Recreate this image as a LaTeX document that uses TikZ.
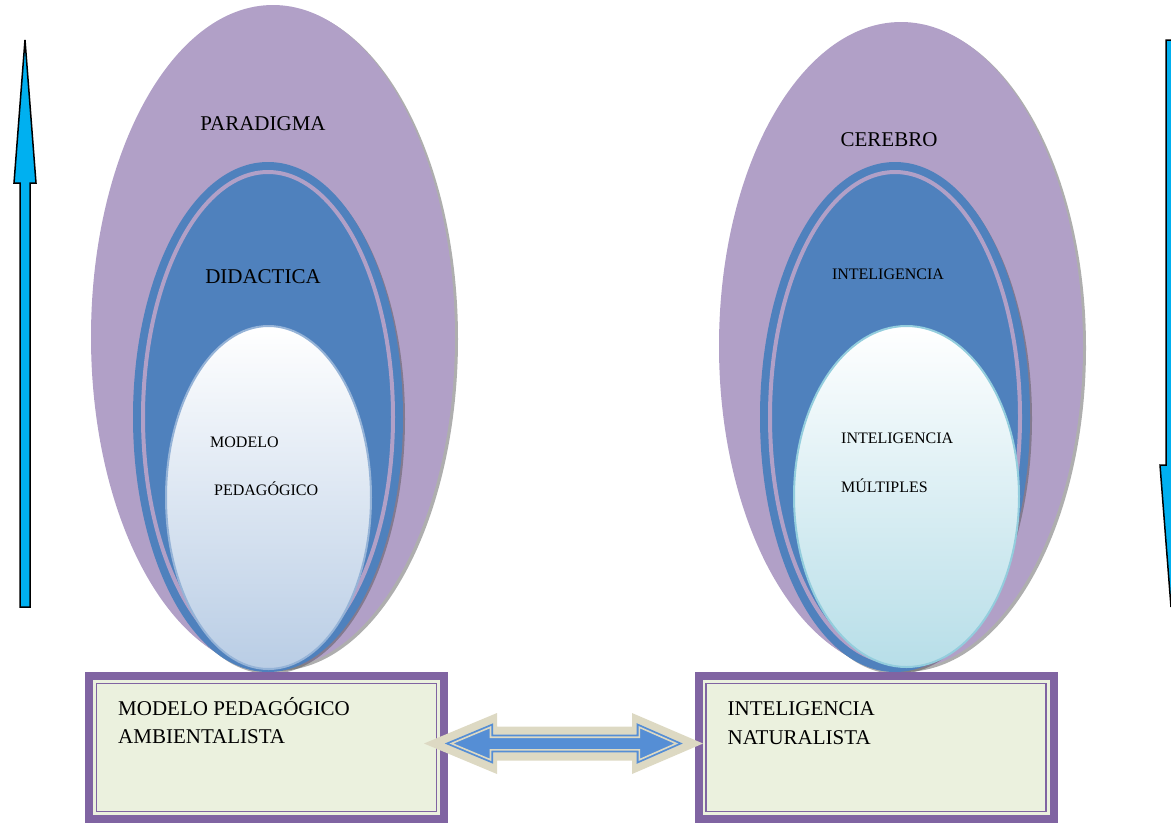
\documentclass[tikz,border=0pt]{standalone}
\usepackage{fontspec}
\setmainfont{Liberation Serif}
\usepackage{xcolor}
\usepackage{tikz}
\usetikzlibrary{calc}
\definecolor{lila}{HTML}{B1A0C7}
\definecolor{azul}{HTML}{4F81BD}
\definecolor{celeste}{HTML}{00B0F0}
\definecolor{morado}{HTML}{8064A2}
\definecolor{verdecaja}{HTML}{EBF1DE}
\definecolor{beige}{HTML}{DDD9C3}
\definecolor{azulflecha}{HTML}{558ED5}
\definecolor{bordeazul}{HTML}{95B3D7}
\definecolor{fondoazul}{HTML}{B9CDE5}
\definecolor{bordecian}{HTML}{93CDDD}
\definecolor{fondocian}{HTML}{B7DEE8}
\tikzstyle{sombra}=[fill=black!70, opacity=0.45]
\tikzstyle{elipse lila}=[fill=lila]
\tikzstyle{elipse azul}=[fill=azul, draw=azul, line width=8pt, double=lila, double distance=4pt]
\tikzstyle{elipse clara}=[line width=2pt, top color=white]
\tikzstyle{caja}=[rectangle, fill=verdecaja, draw=morado, line width=8pt, minimum width=355pt, minimum height=143pt]
\tikzstyle{marco}=[draw=morado, line width=1.5pt]
\tikzstyle{titulo}=[font=\fontsize{21}{25}\selectfont, inner sep=0pt, anchor=base]
\tikzstyle{texto}=[font=\fontsize{16}{19}\selectfont, inner sep=0pt]
\tikzstyle{flecha lateral}=[fill=celeste, draw=black, line width=1.5pt]
\tikzstyle{flecha doble}=[fill=azulflecha, draw=azulflecha, line width=1.8pt, double=beige, double distance=1.6pt]
\pgfdeclarelayer{fondo}
\pgfsetlayers{fondo,main}

\begin{document}
\begin{tikzpicture}[x=1pt, y=-1pt]
        \useasboundingbox (0,0) rectangle (1171,823);
        \begin{pgfonlayer}{fondo}
                % paradigma
                \fill[sombra] (276,339) ellipse [x radius=182pt, y radius=332pt];
                \fill[elipse lila] (273,337) ellipse [x radius=182pt, y radius=332pt];
                \fill[sombra] (270,419) ellipse [x radius=135pt, y radius=255pt];
                \draw[elipse azul] (268,417) ellipse [x radius=125pt, y radius=245pt];
                \draw[elipse clara, bottom color=fondoazul, draw=bordeazul] (268.5,497.5) ellipse [x radius=102.5pt, y radius=171.5pt];
                % cerebro
                \fill[sombra] (904,348) ellipse [x radius=182pt, y radius=324pt];
                \fill[elipse lila] (901,346) ellipse [x radius=182pt, y radius=324pt];
                \fill[sombra] (897,419) ellipse [x radius=135pt, y radius=255pt];
                \draw[elipse azul] (895,417) ellipse [x radius=125pt, y radius=245pt];
                \draw[elipse clara, bottom color=fondocian, draw=bordecian] (906.5,496.5) ellipse [x radius=112.5pt, y radius=170.5pt];
        \end{pgfonlayer}
        % flechas laterales
        \draw[flecha lateral] (20,607) -- (20,183) -- (14,183) -- (25,40) -- (36,183) -- (30,183) -- (30,607) -- cycle;
        \draw[flecha lateral] (1166,40) -- (1166,465) -- (1160,465) -- (1171,607) -- (1182,465) -- (1176,465) -- (1176,40) -- cycle;
        % textos de las elipses
        \node[titulo] (paradigma) at (263,130) {PARADIGMA};
        \node[titulo] (didactica) at (263,283) {DIDACTICA};
        \node[texto, anchor=base west] (modelo) at (210,447) {MODELO};
        \node[texto, anchor=base west] (pedagogico) at (214,495) {PEDAGÓGICO};
        \node[titulo] (cerebro) at (889,146) {CEREBRO};
        \node[texto, anchor=base] (inteligencia) at (888,279) {INTELIGENCIA};
        \node[texto, anchor=base west] (intMult) at (841,443) {INTELIGENCIA};
        \node[texto, anchor=base west] (multiples) at (841,492) {MÚLTIPLES};
        % cajas
        \node[caja] (cajaIzq) at (266.5,747.5) {};
        \node[caja] (cajaDer) at (876,747.5) {};
        \draw[marco] ($(cajaIzq.north west)+(11.5,11.5)$) rectangle ($(cajaIzq.south east)+(-11.5,-11.5)$);
        \draw[marco] ($(cajaDer.north west)+(11.5,11.5)$) rectangle ($(cajaDer.south east)+(-11.5,-11.5)$);
        \node[titulo, anchor=base west] (tModelo) at ($(cajaIzq.north west)+(33,43)$) {MODELO PEDAGÓGICO};
        \node[titulo, anchor=base west] (tAmbiental) at ($(tModelo.base west)+(0,28)$) {AMBIENTALISTA};
        \node[titulo, anchor=base west] (tInteligencia) at ($(cajaDer.north west)+(33,43)$) {INTELIGENCIA};
        \node[titulo, anchor=base west] (tNatural) at ($(tInteligencia.base west)+(0,29)$) {NATURALISTA};
        % flecha doble entre cajas
        \coordinate (puntaIzq) at ($(cajaIzq.east)+(-24,-4)$);
        \coordinate (puntaAzul) at ($(puntaIzq)+(27.5,0)$);
        \fill[beige] (puntaIzq) -- ++(73,-30.5) -- ++(0,13.5) -- ++(135,0) -- ++(0,-13.5) -- ++(71,30.5)
                -- ++(-71,30.5) -- ++(0,-13.5) -- ++(-135,0) -- ++(0,13.5) -- cycle;
        \draw[flecha doble] (puntaAzul) -- ++(39,-16.3) -- ++(0,10) -- ++(148.8,0) -- ++(0,-10) -- ++(37,16.3)
                -- ++(-37,16.3) -- ++(0,-10) -- ++(-148.8,0) -- ++(0,10) -- cycle;
\end{tikzpicture}
\end{document}
